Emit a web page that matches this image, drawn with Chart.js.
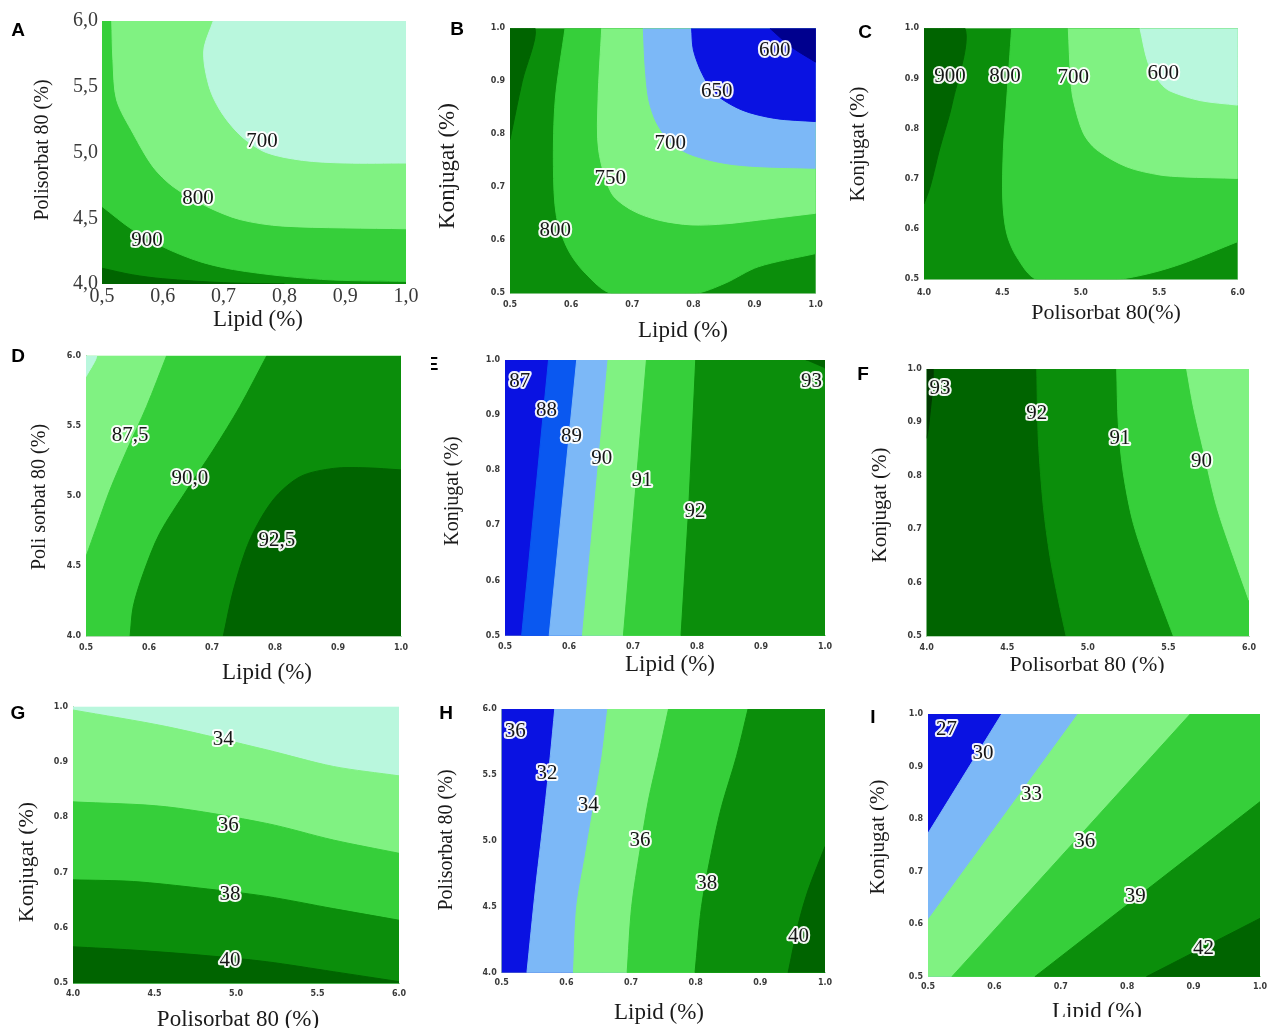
<!DOCTYPE html>
<html>
<head>
<meta charset="utf-8">
<script src="https://cdn.jsdelivr.net/npm/chart.js@4.4.1/dist/chart.umd.min.js"></script>
<style>
html,body{margin:0;padding:0;background:#fff;}
body{width:1278px;height:1028px;position:relative;overflow:hidden;}
canvas{position:absolute;}
</style>
</head>
<body>
<script>
// ---------------- tick values ----------------
const lipidTicks = [0.5, 0.6, 0.7, 0.8, 0.9, 1.0];
const polisorbatTicks = [4.0, 4.5, 5.0, 5.5, 6.0];
const konjugatTicks = [0.5, 0.6, 0.7, 0.8, 0.9, 1.0];

// ---------------- Panel A : Lipid x Polisorbat 80 ----------------
const A_lvl1000 = [[0.5,4.12],[0.55,4.07],[0.6,4.04],[0.7,4.01],[0.8,4.0]];
const A_lvl900 = [[0.5,4.59],[0.551,4.41],[0.606,4.27],[0.661,4.17],[0.716,4.11],[0.798,4.06],[0.881,4.03],[1.0,4.02]];
const A_lvl800 = [[0.516,6.0],[0.518,5.7],[0.524,5.40],[0.551,5.146],[0.584,4.89],[0.617,4.74],[0.672,4.59],[0.727,4.49],[0.798,4.44],[1.0,4.42]];
const A_lvl700 = [[0.683,6.0],[0.668,5.8],[0.669,5.65],[0.68,5.45],[0.70,5.28],[0.73,5.12],[0.77,5.0],[0.83,4.94],[0.9,4.92],[1.0,4.92]];
const A_labelText = ['700','800','900'];
const A_labelX = [0.763,0.658,0.574];
const A_labelY = [5.08,4.65,4.33];

// ---------------- Panel B : Lipid x Konjugat ----------------
const B_lvl850 = [[0.5,1.0],[0.541,1.0],[0.52,0.9],[0.5,0.79]];
const B_lvl800 = [[0.59,1.0],[0.574,0.865],[0.571,0.739],[0.576,0.645],[0.595,0.582],[0.623,0.538],[0.666,0.5],[0.803,0.5],[0.852,0.519],[0.906,0.55],[1.0,0.575]];
const B_lvl750 = [[0.65,1.0],[0.644,0.865],[0.645,0.77],[0.666,0.689],[0.699,0.657],[0.743,0.638],[0.797,0.629],[0.852,0.631],[0.906,0.638],[1.0,0.651]];
const B_lvl700 = [[0.718,1.0],[0.721,0.928],[0.727,0.865],[0.74,0.821],[0.764,0.783],[0.797,0.761],[0.852,0.745],[0.906,0.739],[1.0,0.736]];
const B_lvl650 = [[0.797,1.0],[0.8,0.959],[0.814,0.915],[0.835,0.877],[0.879,0.846],[0.933,0.83],[1.0,0.824]];
const B_lvl600 = [[0.925,1.0],[0.96,0.965],[1.0,0.936]];
const B_labelText = ['600','650','700','750','800'];
const B_labelX = [0.933,0.838,0.762,0.664,0.574];
const B_labelY = [0.959,0.88,0.783,0.717,0.619];

// ---------------- Panel C : Polisorbat 80 x Konjugat ----------------
const C_lvl1000 = [[4.0,1.0],[4.261,1.0],[4.18,0.85],[4.1,0.76],[4.04,0.685],[4.0,0.65]];
const C_lvl800 = [[4.559,1.0],[4.527,0.857],[4.506,0.758],[4.502,0.658],[4.527,0.592],[4.59,0.545],[4.72,0.5],[5.228,0.5],[5.441,0.512],[5.654,0.532],[6.0,0.575]];
const C_lvl700 = [[4.92,1.0],[4.935,0.9],[4.952,0.857],[5.016,0.791],[5.101,0.758],[5.292,0.724],[5.5,0.708],[5.654,0.704],[6.0,0.701]];
const C_lvl600 = [[5.377,1.0],[5.43,0.93],[5.51,0.89],[5.569,0.875],[5.76,0.856],[6.0,0.847]];
const C_labelText = ['900','800','700','600'];
const C_labelX = [4.166,4.516,4.952,5.526];
const C_labelY = [0.904,0.904,0.902,0.91];

// ---------------- Panel D : Lipid x Polisorbat 80 ----------------
const D_lvl850 = [[0.5,6.0],[0.517,6.0],[0.5,5.85]];
const D_lvl875 = [[0.628,6.0],[0.596,5.636],[0.565,5.327],[0.538,5.042],[0.517,4.78],[0.5,4.566]];
const D_lvl900 = [[0.787,6.0],[0.744,5.636],[0.702,5.327],[0.66,5.042],[0.617,4.733],[0.591,4.448],[0.575,4.21],[0.57,4.0]];
const D_lvl925 = [[0.718,4.0],[0.734,4.328],[0.76,4.685],[0.797,4.971],[0.84,5.137],[0.893,5.196],[0.945,5.2],[1.0,5.185]];
const D_labelText = ['87,5','90,0','92,5'];
const D_labelX = [0.57,0.665,0.803];
const D_labelY = [5.434,5.124,4.685];

// ---------------- Panel E : Lipid x Konjugat ----------------
const E_lvl88 = [[0.568,1.0],[0.526,0.5]];
const E_lvl89 = [[0.612,1.0],[0.569,0.5]];
const E_lvl90 = [[0.661,1.0],[0.621,0.5]];
const E_lvl91 = [[0.721,1.0],[0.685,0.5]];
const E_lvl92 = [[0.798,1.0],[0.787,0.73],[0.775,0.5]];
const E_lvl93 = [[0.97,1.0],[1.0,1.0],[1.0,0.985]];
const E_labelText = ['87','88','89','90','91','92','93'];
const E_labelX = [0.523,0.565,0.604,0.651,0.714,0.797,0.979];
const E_labelY = [0.961,0.909,0.861,0.822,0.782,0.725,0.961];

// ---------------- Panel F : Polisorbat 80 x Konjugat ----------------
const F_lvl93 = [[4.0,1.0],[4.04,1.0],[4.015,0.9],[4.0,0.87]];
const F_lvl92 = [[4.683,1.0],[4.693,0.867],[4.724,0.742],[4.765,0.649],[4.817,0.567],[4.865,0.5]];
const F_lvl91 = [[5.179,1.0],[5.189,0.898],[5.22,0.805],[5.282,0.711],[5.386,0.617],[5.531,0.5]];
const F_lvl90 = [[5.613,1.0],[5.655,0.929],[5.717,0.848],[5.8,0.742],[5.903,0.649],[6.0,0.567]];
const F_labelText = ['93','92','91','90'];
const F_labelX = [4.083,4.683,5.2,5.706];
const F_labelY = [0.964,0.917,0.87,0.826];

// ---------------- Panel G : Polisorbat 80 x Konjugat ----------------
const G_lvl34 = [[4.0,0.994],[4.575,0.964],[5.188,0.922],[5.597,0.892],[6.0,0.875]];
const G_lvl36 = [[4.0,0.828],[4.575,0.819],[5.188,0.789],[5.597,0.759],[6.0,0.735]];
const G_lvl38 = [[4.0,0.687],[4.37,0.684],[4.779,0.672],[5.188,0.657],[5.597,0.635],[6.0,0.614]];
const G_lvl40 = [[4.0,0.566],[4.37,0.56],[4.779,0.551],[5.188,0.539],[5.597,0.521],[6.0,0.503]];
const G_labelText = ['34','36','38','40'];
const G_labelX = [4.922,4.953,4.963,4.963];
const G_labelY = [0.94,0.786,0.66,0.542];

// ---------------- Panel H : Lipid x Polisorbat 80 ----------------
const H_lvl32 = [[0.582,6.0],[0.575,5.638],[0.564,5.133],[0.552,4.627],[0.539,4.0]];
const H_lvl34 = [[0.664,6.0],[0.655,5.638],[0.642,5.259],[0.629,4.88],[0.616,4.501],[0.611,4.0]];
const H_lvl36 = [[0.758,6.0],[0.742,5.638],[0.727,5.31],[0.714,4.931],[0.701,4.501],[0.694,4.0]];
const H_lvl38 = [[0.881,6.0],[0.863,5.638],[0.84,5.259],[0.825,4.931],[0.809,4.501],[0.799,4.0]];
const H_lvl40 = [[0.943,4.0],[0.959,4.374],[0.974,4.627],[1.0,4.956]];
const H_labelText = ['36','32','34','36','38','40'];
const H_labelX = [0.521,0.57,0.634,0.714,0.817,0.959];
const H_labelY = [5.828,5.512,5.272,5.006,4.678,4.273];

// ---------------- Panel I : Lipid x Konjugat ----------------
const I_lvl30 = [[0.611,1.0],[0.5,0.773]];
const I_lvl33 = [[0.726,1.0],[0.5,0.608]];
const I_lvl36 = [[0.895,1.0],[0.536,0.5]];
const I_lvl39 = [[1.0,0.833],[0.661,0.5]];
const I_lvl42 = [[1.0,0.611],[0.829,0.5]];
const I_labelText = ['27','30','33','36','39','42'];
const I_labelX = [0.528,0.583,0.656,0.736,0.812,0.915];
const I_labelY = [0.97,0.925,0.846,0.757,0.652,0.554];

// ---------------- styles ----------------
const COL = {
  navy:'#00008e', blue:'#0a12e2', royal:'#0a58f0', lightblue:'#7cb8f7',
  mint:'#b9f7dd', lightgreen:'#80f282', midgreen:'#36cf3a',
  darkgreen:'#0b8e0b', darkest:'#006400', deepest:'#003a00'
};
const SERIF = "'Liberation Serif','DejaVu Serif',serif";

const LIPID = {min:0.5, max:1.0, ticks:lipidTicks};
const POLI = {min:4.0, max:6.0, ticks:polisorbatTicks};
const KONJ = {min:0.5, max:1.0, ticks:konjugatTicks};

const panels = [
 {letter:'A', letterPos:[18,31], box:[0,0,425,340], plot:[102,21,406,284], xAxis:LIPID, yAxis:POLI,
  bigTicks:true, xTickY:297, yTickGap:4, smooth:0.3,
  xTitle:'Lipid (%)', xTitlePos:[258,320], xTitleSize:23,
  yTitle:'Polisorbat 80 (%)', yTitlePos:[43,150], yTitleSize:20,
  bg:'darkgreen',
  regions:[{pts:A_lvl1000, close:['BL'], color:'darkest'},
           {pts:A_lvl900, close:['TR','TL'], color:'midgreen'},
           {pts:A_lvl800, close:['TR'], color:'lightgreen'},
           {pts:A_lvl700, close:['TR'], color:'mint'}],
  labels:{text:A_labelText, x:A_labelX, y:A_labelY}},
 {letter:'B', letterPos:[457,30], box:[425,0,425,346], plot:[510,28.3,815.7,293.3], xAxis:LIPID, yAxis:KONJ,
  xTickY:305, yTickGap:5, smooth:0.3,
  xTitle:'Lipid (%)', xTitlePos:[683,331], xTitleSize:23,
  yTitle:'Konjugat (%)', yTitlePos:[448,166], yTitleSize:23,
  bg:'darkgreen',
  regions:[{pts:B_lvl850, close:[], color:'darkest'},
           {pts:B_lvl800, close:['TR'], color:'midgreen'},
           {pts:B_lvl750, close:['TR'], color:'lightgreen'},
           {pts:B_lvl700, close:['TR'], color:'lightblue'},
           {pts:B_lvl650, close:['TR'], color:'blue'},
           {pts:B_lvl600, close:['TR'], color:'navy'}],
  labels:{text:B_labelText, x:B_labelX, y:B_labelY}},
 {letter:'C', letterPos:[865,33], box:[845,0,433,340], plot:[924,28.3,1237.7,279.3], xAxis:POLI, yAxis:KONJ,
  xTickY:292.7, yTickGap:5, smooth:0.3,
  xTitle:'Polisorbat 80(%)', xTitlePos:[1106,313], xTitleSize:22,
  yTitle:'Konjugat (%)', yTitlePos:[858,144], yTitleSize:21,
  bg:'darkgreen',
  regions:[{pts:C_lvl1000, close:[], color:'darkest'},
           {pts:C_lvl800, close:['TR'], color:'midgreen'},
           {pts:C_lvl700, close:['TR'], color:'lightgreen'},
           {pts:C_lvl600, close:['TR'], color:'mint'}],
  labels:{text:C_labelText, x:C_labelX, y:C_labelY}},
 {letter:'D', letterPos:[18,357], box:[0,340,425,350], plot:[86,355.7,401,636], xAxis:LIPID, yAxis:POLI,
  xTickY:648, yTickGap:5, smooth:0.3,
  xTitle:'Lipid (%)', xTitlePos:[267,673], xTitleSize:23,
  yTitle:'Poli sorbat 80 (%)', yTitlePos:[40,497], yTitleSize:20,
  bg:'lightgreen',
  regions:[{pts:D_lvl850, close:[], color:'mint'},
           {pts:D_lvl875, close:['BL','BR','TR'], color:'midgreen'},
           {pts:D_lvl900, close:['BR','TR'], color:'darkgreen'},
           {pts:D_lvl925, close:['BR'], color:'darkest'}],
  labels:{text:D_labelText, x:D_labelX, y:D_labelY}},
 {letter:'E', letterPos:[432,365], box:[431,340,424,350], plot:[505,360,825,635.7], xAxis:LIPID, yAxis:KONJ,
  xTickY:646.7, yTickGap:5, smooth:0,
  xTitle:'Lipid (%)', xTitlePos:[670,665], xTitleSize:23,
  yTitle:'Konjugat (%)', yTitlePos:[453,491], yTitleSize:20,
  bg:'blue',
  regions:[{pts:E_lvl88, close:['BR','TR'], color:'royal'},
           {pts:E_lvl89, close:['BR','TR'], color:'lightblue'},
           {pts:E_lvl90, close:['BR','TR'], color:'lightgreen'},
           {pts:E_lvl91, close:['BR','TR'], color:'midgreen'},
           {pts:E_lvl92, close:['BR','TR'], color:'darkgreen'},
           {pts:E_lvl93, close:[], color:'darkest'}],
  labels:{text:E_labelText, x:E_labelX, y:E_labelY}},
 {letter:'F', letterPos:[863,375], box:[855,340,423,333], plot:[926.7,369,1249,636], xAxis:POLI, yAxis:KONJ,
  xTickY:648, yTickGap:5, smooth:0.3,
  xTitle:'Polisorbat 80 (%)', xTitlePos:[1087,665], xTitleSize:22,
  yTitle:'Konjugat (%)', yTitlePos:[880,505], yTitleSize:21,
  bg:'darkest',
  regions:[{pts:F_lvl93, close:[], color:'deepest'},
           {pts:F_lvl92, close:['BR','TR'], color:'darkgreen'},
           {pts:F_lvl91, close:['BR','TR'], color:'midgreen'},
           {pts:F_lvl90, close:['TR'], color:'lightgreen'}],
  labels:{text:F_labelText, x:F_labelX, y:F_labelY}},
 {letter:'G', letterPos:[18,714], box:[0,690,430,338], plot:[73,706.7,399,983.3], xAxis:POLI, yAxis:KONJ,
  xTickY:994, yTickGap:5, smooth:0.3,
  xTitle:'Polisorbat 80 (%)', xTitlePos:[238,1020], xTitleSize:23,
  yTitle:'Konjugat (%)', yTitlePos:[27,862], yTitleSize:22,
  bg:'mint',
  regions:[{pts:G_lvl34, close:['BR','BL'], color:'lightgreen'},
           {pts:G_lvl36, close:['BR','BL'], color:'midgreen'},
           {pts:G_lvl38, close:['BR','BL'], color:'darkgreen'},
           {pts:G_lvl40, close:['BR','BL'], color:'darkest'}],
  labels:{text:G_labelText, x:G_labelX, y:G_labelY}},
 {letter:'H', letterPos:[446,714], box:[430,690,425,338], plot:[501.7,709,825,972.7], xAxis:LIPID, yAxis:POLI,
  xTickY:983, yTickGap:5, smooth:0.3,
  xTitle:'Lipid (%)', xTitlePos:[659,1013], xTitleSize:23,
  yTitle:'Polisorbat 80 (%)', yTitlePos:[447,840], yTitleSize:20,
  bg:'blue',
  regions:[{pts:H_lvl32, close:['BR','TR'], color:'lightblue'},
           {pts:H_lvl34, close:['BR','TR'], color:'lightgreen'},
           {pts:H_lvl36, close:['BR','TR'], color:'midgreen'},
           {pts:H_lvl38, close:['BR','TR'], color:'darkgreen'},
           {pts:H_lvl40, close:['BR'], color:'darkest'}],
  labels:{text:H_labelText, x:H_labelX, y:H_labelY}},
 {letter:'I', letterPos:[873,718], box:[855,690,423,327], plot:[928,714,1260,976.7], xAxis:LIPID, yAxis:KONJ,
  xTickY:986.7, yTickGap:5, smooth:0,
  xTitle:'Lipid (%)', xTitlePos:[1097,1012], xTitleSize:23,
  yTitle:'Konjugat (%)', yTitlePos:[878,837], yTitleSize:21,
  bg:'blue',
  regions:[{pts:I_lvl30, close:['BL','BR','TR'], color:'lightblue'},
           {pts:I_lvl33, close:['BL','BR','TR'], color:'lightgreen'},
           {pts:I_lvl36, close:['BR','TR'], color:'midgreen'},
           {pts:I_lvl39, close:['BR'], color:'darkgreen'},
           {pts:I_lvl42, close:['BR'], color:'darkest'}],
  labels:{text:I_labelText, x:I_labelX, y:I_labelY}}
];

function makeDecor(p){
  const [cL,cT] = p.box;
  return {
    id:'decor'+p.letter,
    beforeDatasetsDraw(chart){
      const {ctx, chartArea:a} = chart;
      ctx.save();
      ctx.fillStyle = COL[p.bg];
      ctx.fillRect(a.left, a.top, a.right-a.left, a.bottom-a.top);
      ctx.restore();
    },
    afterDatasetsDraw(chart){
      const ctx = chart.ctx, sx = chart.scales.x, sy = chart.scales.y;
      ctx.save();
      ctx.font = '21px ' + SERIF;
      ctx.textAlign = 'center'; ctx.textBaseline = 'middle'; ctx.lineJoin = 'round';
      p.labels.text.forEach((t,i)=>{
        const px = sx.getPixelForValue(p.labels.x[i]);
        const py = sy.getPixelForValue(p.labels.y[i]);
        ctx.lineWidth = 4; ctx.strokeStyle = 'rgba(255,255,255,0.95)';
        ctx.strokeText(t, px, py);
        ctx.fillStyle = '#161616';
        ctx.fillText(t, px, py);
      });
      ctx.restore();
    },
    afterDraw(chart){
      const ctx = chart.ctx;
      ctx.save();
      ctx.fillStyle = '#1a1a1a';
      ctx.textAlign = 'center'; ctx.textBaseline = 'middle';
      ctx.font = p.xTitleSize + 'px ' + SERIF;
      ctx.fillText(p.xTitle, p.xTitlePos[0]-cL, p.xTitlePos[1]-cT);
      ctx.save();
      ctx.translate(p.yTitlePos[0]-cL, p.yTitlePos[1]-cT);
      ctx.rotate(-Math.PI/2);
      ctx.font = p.yTitleSize + 'px ' + SERIF;
      ctx.fillText(p.yTitle, 0, 0);
      ctx.restore();
      ctx.fillStyle = '#000';
      ctx.font = "bold 19px 'Liberation Sans','DejaVu Sans',sans-serif";
      ctx.fillText(p.letter, p.letterPos[0]-cL, p.letterPos[1]-cT);
      ctx.restore();
    }
  };
}

function makeChart(p){
  const [cL,cT,cW,cH] = p.box;
  const [pL,pT,pR,pB] = p.plot;
  const canvas = document.createElement('canvas');
  canvas.width = cW; canvas.height = cH;
  canvas.style.left = cL+'px'; canvas.style.top = cT+'px';
  canvas.style.width = cW+'px'; canvas.style.height = cH+'px';
  document.body.appendChild(canvas);
  const yW = pL - cL, xH = (cT+cH) - pB, padTop = pT - cT, padRight = (cL+cW) - pR;
  const xs = p.xAxis, ys = p.yAxis;
  const corner = {TL:{x:xs.min,y:ys.max}, TR:{x:xs.max,y:ys.max}, BL:{x:xs.min,y:ys.min}, BR:{x:xs.max,y:ys.min}};
  const n = p.regions.length;
  // curve points; the curve's last point and each closing corner are repeated so that
  // the smoothed curve meets the frame straight (no overshoot along the edges)
  const buildPath = r => {
    const curve = r.pts.map(([x,y])=>({x, y}));
    if (!r.close.length) return curve;
    const last = curve[curve.length-1];
    const out = curve.concat([{x:last.x, y:last.y}]);
    r.close.forEach(k => { out.push({...corner[k]}, {...corner[k]}); });
    return out;
  };
  const datasets = p.regions.map((r,i)=>({
    data: buildPath(r),
    showLine:true, fill:'shape', tension:p.smooth,
    backgroundColor: COL[r.color], borderColor: COL[r.color], borderWidth:1,
    pointRadius:0, pointHoverRadius:0, order: n - i
  }));
  const tickFont = p.bigTicks ? {family:SERIF, size:20} : {family:"'DejaVu Sans',sans-serif", size:8, weight:'bold'};
  const tickLH = tickFont.size * 1.2;
  const fmt = v => p.bigTicks ? Number(v).toFixed(1).replace('.', ',') : Number(v).toFixed(1);
  const frame = p.bigTicks ? 'rgba(0,0,0,0)' : 'rgba(160,205,160,0.8)';
  new Chart(canvas, {
    type:'scatter',
    data:{datasets},
    plugins:[makeDecor(p)],
    options:{
      responsive:false, animation:false, devicePixelRatio:1,
      layout:{padding:{top:padTop, right:padRight, left:0, bottom:0}},
      plugins:{legend:{display:false}, tooltip:{enabled:false}},
      events:[],
      scales:{
        x:{type:'linear', min:xs.min, max:xs.max,
           afterBuildTicks: s => { s.ticks = xs.ticks.map(v=>({value:v})); },
           afterFit: s => { s.height = xH; },
           grid:{display:false, drawTicks:false},
           border:{display:true, color:frame, width:1},
           ticks:{padding: p.xTickY - pB - tickLH/2, font:tickFont, color:'#3a3a3a', maxRotation:0, autoSkip:false, callback: v => fmt(v)}
        },
        y:{type:'linear', min:ys.min, max:ys.max,
           afterBuildTicks: s => { s.ticks = ys.ticks.map(v=>({value:v})); },
           afterFit: s => { s.width = yW; },
           grid:{display:false, drawTicks:false},
           border:{display:true, color:frame, width:1},
           ticks:{padding: p.yTickGap, font:tickFont, color:'#3a3a3a', autoSkip:false, callback: v => fmt(v)}
        }
      }
    }
  });
}

panels.forEach(makeChart);
</script>
</body>
</html>
